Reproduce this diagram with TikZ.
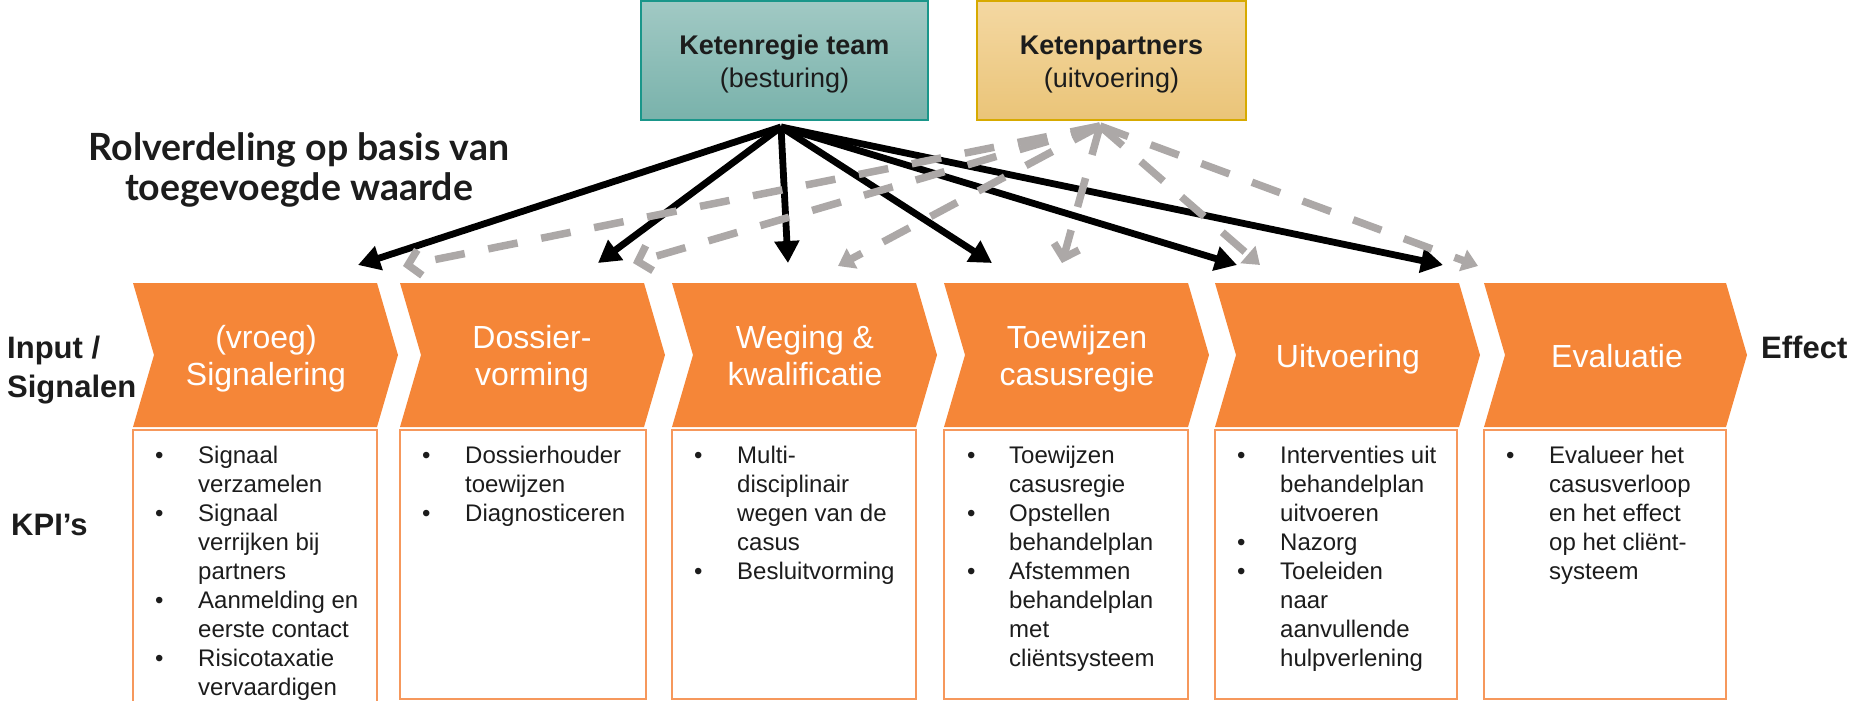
\documentclass[tikz,border=0pt]{standalone}
\usepackage{fontspec}
\setmainfont{Liberation Sans}
\newfontfamily\rolfont{Lato}
\usetikzlibrary{arrows.meta}

\definecolor{chevorange}{RGB}{245,134,56}
\definecolor{kpiline}{RGB}{246,152,92}
\definecolor{darktext}{RGB}{28,28,28}
\definecolor{partnergrey}{RGB}{172,168,167}
\definecolor{teamtop}{RGB}{161,201,196}
\definecolor{teambot}{RGB}{121,178,171}
\definecolor{teamline}{RGB}{26,150,138}
\definecolor{parttop}{RGB}{244,216,162}
\definecolor{partbot}{RGB}{234,196,120}
\definecolor{partline}{RGB}{215,170,0}

\tikzset{
  chev/.style={fill=chevorange},
  stage/.style={text=white, font=\fontsize{32}{37}\selectfont, anchor=base, inner sep=0pt},
  kpibox/.style={draw=kpiline, line width=1.6pt},
  kpitext/.style={text=darktext, font=\fontsize{24}{29}\selectfont, anchor=base west, inner sep=0pt},
  sidelabel/.style={text=darktext, font=\bfseries\fontsize{31}{39}\selectfont, anchor=base west, inner sep=0pt},
  boxtitle/.style={text=darktext, font=\fontsize{27}{33}\selectfont, anchor=base, inner sep=0pt},
  regie/.style={line width=6.8pt, -{Triangle[length=22pt,width=24pt]}},
  partner/.style={draw=partnergrey, line width=7.5pt, dash pattern=on 30pt off 24pt},
}

\begin{document}
\begin{tikzpicture}[x=1pt, y=-1pt]
    \useasboundingbox (0,0) rectangle (1852,701);

    % Top boxes
    \node[draw=teamline, line width=2pt, top color=teamtop, bottom color=teambot,
          minimum width=287pt, minimum height=119pt] (team) at (784.5,60.5) {};
    \node[boxtitle] (teamtxt) at (784.5,55) {\begin{tabular}[t]{@{}c@{}}\textbf{Ketenregie team}\\(besturing)\end{tabular}};
    \node[draw=partline, line width=2pt, top color=parttop, bottom color=partbot,
          minimum width=269pt, minimum height=119pt] (partners) at (1111.5,60.5) {};
    \node[boxtitle] (partnerstxt) at (1111.5,55) {\begin{tabular}[t]{@{}c@{}}\textbf{Ketenpartners}\\(uitvoering)\end{tabular}};

    % Heading
    \node[anchor=base, inner sep=0pt, text=darktext, font=\rolfont\bfseries\fontsize{37.5}{40}\selectfont] (rol) at (299,160)
        {\begin{tabular}[t]{@{}c@{}}Rolverdeling op basis van\\toegevoegde waarde\end{tabular}};

    % Side labels
    \node[sidelabel] (input) at (7,358) {\begin{tabular}[t]{@{}l@{}}Input /\\Signalen\end{tabular}};
    \node[sidelabel] (kpis) at (11,535) {KPI’s};
    \node[sidelabel] (effect) at (1761,358) {Effect};

    % Stage 1
    \begin{scope}[xshift=133pt]
        \fill[chev] (0,283) -- (244,283) -- (265,355) -- (244,427) -- (0,427) -- (21,355) -- cycle;
        \node[stage] (sig) at (133,348) {\begin{tabular}[t]{@{}c@{}}(vroeg)\\Signalering\end{tabular}};
        \draw[kpibox] (0,430) rectangle (244,706);
        \node[kpitext] (kpisig) at (22,463) {\begin{tabular}[t]{@{}p{43pt}@{}l@{}}
            \textbullet & Signaal\\ & verzamelen\\
            \textbullet & Signaal\\ & verrijken bij\\ & partners\\
            \textbullet & Aanmelding en\\ & eerste contact\\
            \textbullet & Risicotaxatie\\ & vervaardigen\end{tabular}};
    \end{scope}

    % Stage 2
    \begin{scope}[xshift=400pt]
        \fill[chev] (0,283) -- (244,283) -- (265,355) -- (244,427) -- (0,427) -- (21,355) -- cycle;
        \node[stage] (dos) at (132,348) {\begin{tabular}[t]{@{}c@{}}Dossier-\\vorming\end{tabular}};
        \draw[kpibox] (0,430) rectangle (246,699);
        \node[kpitext] (kpidos) at (22,463) {\begin{tabular}[t]{@{}p{43pt}@{}l@{}}
            \textbullet & Dossierhouder\\ & toewijzen\\
            \textbullet & Diagnosticeren\end{tabular}};
    \end{scope}

    % Stage 3
    \begin{scope}[xshift=672pt]
        \fill[chev] (0,283) -- (244,283) -- (265,355) -- (244,427) -- (0,427) -- (21,355) -- cycle;
        \node[stage] (weg) at (133,348) {\begin{tabular}[t]{@{}c@{}}Weging \&\\kwalificatie\end{tabular}};
        \draw[kpibox] (0,430) rectangle (244,699);
        \node[kpitext] (kpiweg) at (22,463) {\begin{tabular}[t]{@{}p{43pt}@{}l@{}}
            \textbullet & Multi-\\ & disciplinair\\ & wegen van de\\ & casus\\
            \textbullet & Besluitvorming\end{tabular}};
    \end{scope}

    % Stage 4
    \begin{scope}[xshift=944pt]
        \fill[chev] (0,283) -- (244,283) -- (265,355) -- (244,427) -- (0,427) -- (21,355) -- cycle;
        \node[stage] (toe) at (133,348) {\begin{tabular}[t]{@{}c@{}}Toewijzen\\casusregie\end{tabular}};
        \draw[kpibox] (0,430) rectangle (244,699);
        \node[kpitext] (kpitoe) at (23,463) {\begin{tabular}[t]{@{}p{42pt}@{}l@{}}
            \textbullet & Toewijzen\\ & casusregie\\
            \textbullet & Opstellen\\ & behandelplan\\
            \textbullet & Afstemmen\\ & behandelplan\\ & met\\ & cliëntsysteem\end{tabular}};
    \end{scope}

    % Stage 5
    \begin{scope}[xshift=1215pt]
        \fill[chev] (0,283) -- (244,283) -- (265,355) -- (244,427) -- (0,427) -- (21,355) -- cycle;
        \node[stage] (uit) at (133,367) {Uitvoering};
        \draw[kpibox] (0,430) rectangle (242,699);
        \node[kpitext] (kpiuit) at (22,463) {\begin{tabular}[t]{@{}p{43pt}@{}l@{}}
            \textbullet & Interventies uit\\ & behandelplan\\ & uitvoeren\\
            \textbullet & Nazorg\\
            \textbullet & Toeleiden\\ & naar\\ & aanvullende\\ & hulpverlening\end{tabular}};
    \end{scope}

    % Stage 6
    \begin{scope}[xshift=1484pt]
        \fill[chev] (0,283) -- (242,283) -- (263,355) -- (242,427) -- (0,427) -- (21,355) -- cycle;
        \node[stage] (eva) at (133,367) {Evaluatie};
        \draw[kpibox] (0,430) rectangle (242,699);
        \node[kpitext] (kpieva) at (22,463) {\begin{tabular}[t]{@{}p{43pt}@{}l@{}}
            \textbullet & Evalueer het\\ & casusverloop\\ & en het effect\\ & op het cliënt-\\ & systeem\end{tabular}};
    \end{scope}

    % Arrow ends
    \coordinate (rsrc) at (781,127);
    \coordinate (psrc) at (1100,126);
    \coordinate (r1) at (358,265);
    \coordinate (r2) at (598,263);
    \coordinate (r3) at (788,263);
    \coordinate (r4) at (992,263);
    \coordinate (r5) at (1237,265);
    \coordinate (r6) at (1443,265);
    \coordinate (p1) at (403,266);
    \coordinate (p2) at (633,263);
    \coordinate (p3) at (838,266);
    \coordinate (p4) at (1062,263);
    \coordinate (p5) at (1260,265);
    \coordinate (p6) at (1478,266);

    % Ketenregie team
    \draw[regie] (rsrc) -- (r1);
    \draw[regie] (rsrc) -- (r2);
    \draw[regie] (rsrc) -- (r3);
    \draw[regie] (rsrc) -- (r4);
    \draw[regie] (rsrc) -- (r5);
    \draw[regie] (rsrc) -- (r6);

    % Ketenpartners
    \draw[partner, -{Straight Barb[length=12pt,width=26pt]}] (psrc) -- (p1);
    \draw[partner, -{Straight Barb[length=12pt,width=26pt]}] (psrc) -- (p2);
    \draw[partner, -{Triangle[length=16pt,width=22pt]}] (psrc) -- (p3);
    \draw[partner, -{Straight Barb[length=12pt,width=26pt]}] (psrc) -- (p4);
    \draw[partner, -{Triangle[length=16pt,width=22pt]}] (psrc) -- (p5);
    \draw[partner, -{Triangle[length=16pt,width=22pt]}] (psrc) -- (p6);
\end{tikzpicture}
\end{document}
